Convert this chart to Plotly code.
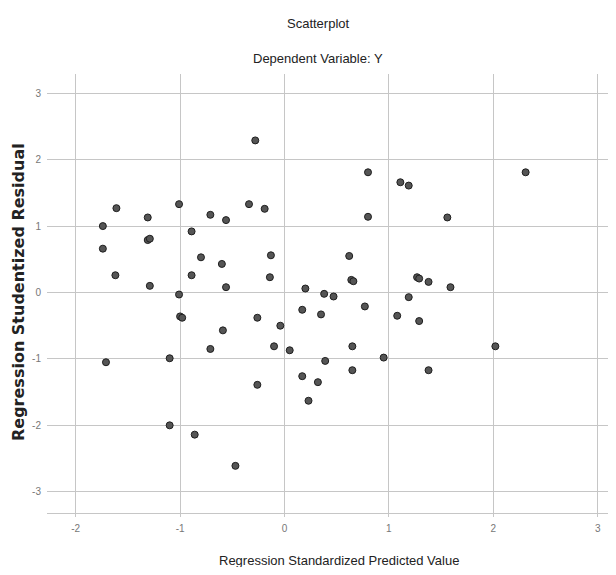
import plotly.graph_objects as go

# Regression standardized predicted values (x) and studentized residuals (y)
pred_x = [-1.61, -1.31, -1.01, -0.71, -0.56, -1.74, -0.89, -1.31, -1.29, -1.74,
          -0.80, -0.60, -1.62, -0.89, -1.29, -0.56, -1.01, -1.00, -0.98, -0.28,
          -0.34, -0.19, 0.80, 1.11, 1.19, 0.80, 1.56, 2.31, -0.13, -0.14,
          0.62, 0.64, 0.66, 0.20, 0.38, 0.47, 0.77, 0.17, 0.35, -0.26,
          1.08, 1.27, 1.29, 1.38, 1.59, 1.19, 1.29, -0.59, -0.71, -1.71,
          -1.10, -1.10, -0.86, -0.47, -0.04, -0.10, 0.05, 0.65, 0.39, 0.95,
          0.65, 0.17, 0.32, -0.26, 0.23, 2.02, 1.38]
resid_y = [1.27, 1.13, 1.33, 1.17, 1.09, 1.00, 0.92, 0.79, 0.81, 0.66,
           0.53, 0.43, 0.26, 0.26, 0.10, 0.08, -0.03, -0.36, -0.38, 2.29,
           1.33, 1.26, 1.81, 1.66, 1.61, 1.14, 1.13, 1.81, 0.56, 0.23,
           0.55, 0.19, 0.17, 0.06, -0.02, -0.06, -0.21, -0.26, -0.33, -0.38,
           -0.35, 0.23, 0.21, 0.16, 0.08, -0.07, -0.43, -0.57, -0.85, -1.05,
           -0.99, -2.00, -2.14, -2.61, -0.50, -0.81, -0.87, -0.81, -1.03, -0.98,
           -1.17, -1.26, -1.35, -1.39, -1.63, -0.81, -1.17]

x_ticks = [-2, -1, 0, 1, 2, 3]
y_ticks = [-3, -2, -1, 0, 1, 2, 3]

title_main = "Scatterplot"
title_sub = "Dependent Variable: Y"
x_title = "Regression Standardized Predicted Value"
y_title = "Regression Studentized Residual"

# the page body has an 8px margin; figure coordinates = page coordinates - 8
OFF = 8
W, H = 600, 559
L, R, T, B = 39, 0, 66, 54
pw, ph = W - L - R, H - T - B


def px2paper_x(page_px):
    return (page_px - OFF - L) / pw


def px2paper_y(page_py):
    return (H - B - (page_py - OFF)) / ph


narrow = "Liberation Sans Narrow, Arial Narrow, Liberation Sans, Arial, sans-serif"
grid = "#c6c6c6"

fig = go.Figure()
fig.add_trace(go.Scatter(
    x=pred_x, y=resid_y, mode="markers",
    marker=dict(symbol="circle", size=7, color="#555555",
                line=dict(color="#1e1e1e", width=1)),
    showlegend=False, hoverinfo="x+y",
))

fig.update_layout(
    width=W, height=H,
    margin=dict(l=L, r=R, t=T, b=B, pad=0),
    paper_bgcolor="white", plot_bgcolor="white",
    font=dict(family=narrow, color="#222"),
    xaxis=dict(range=[-2.275, 3.099], tickvals=x_ticks, ticktext=[str(v) for v in x_ticks],
               showgrid=True, gridcolor=grid, gridwidth=1, zeroline=False,
               showline=True, linecolor=grid, linewidth=1,
               ticks="outside", ticklen=3, tickcolor=grid,
               tickfont=dict(size=10, color="#777", family=narrow),
               ticklabelstandoff=3),
    yaxis=dict(range=[-3.32, 3.29], tickvals=y_ticks, ticktext=[str(v) for v in y_ticks],
               showgrid=True, gridcolor=grid, gridwidth=1, zeroline=False,
               showline=False, ticks="", ticklen=0,
               tickfont=dict(size=10, color="#777", family=narrow),
               ticklabelstandoff=5),
    annotations=[
        dict(text=title_main, x=px2paper_x(318), y=px2paper_y(24), xref="paper", yref="paper",
             xanchor="center", yanchor="middle", showarrow=False,
             font=dict(size=13, color="#222", family=narrow)),
        dict(text=title_sub, x=px2paper_x(318), y=px2paper_y(59), xref="paper", yref="paper",
             xanchor="center", yanchor="middle", showarrow=False,
             font=dict(size=13, color="#222", family=narrow)),
        dict(text=x_title, x=px2paper_x(339), y=px2paper_y(560), xref="paper", yref="paper",
             xanchor="center", yanchor="middle", showarrow=False,
             font=dict(size=13, color="#222", family=narrow)),
        dict(text=y_title, x=px2paper_x(18), y=px2paper_y(292), xref="paper", yref="paper",
             xanchor="center", yanchor="middle", showarrow=False, textangle=-90,
             font=dict(size=16, color="#222", family="DejaVu Sans", weight="bold")),
    ],
)

fig.write_html("out.html")
